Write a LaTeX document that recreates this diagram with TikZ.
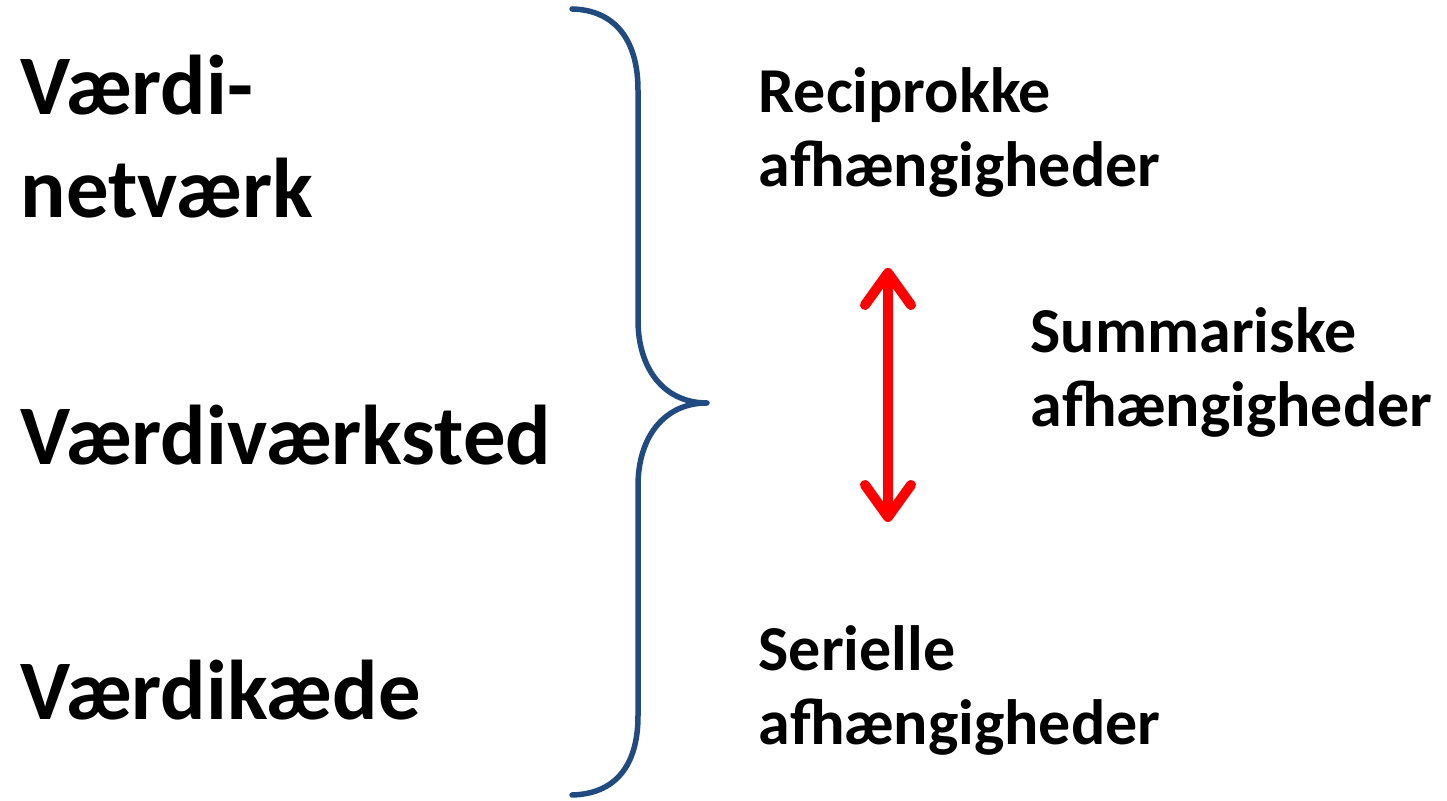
\documentclass[tikz,border=0pt]{standalone}
\usepackage{fontspec}
\setmainfont{Carlito}
\usetikzlibrary{arrows.meta}
\definecolor{bracecol}{RGB}{33,74,128}
\definecolor{arrred}{RGB}{255,0,0}
\tikzset{
  bigtxt/.style={anchor=base west, align=left, inner sep=0pt,
    font=\fontsize{24.1pt}{29.3pt}\selectfont\bfseries},
  smalltxt/.style={anchor=base west, align=left, inner sep=0pt,
    font=\fontsize{18.2pt}{21.2pt}\selectfont\bfseries},
  bracestyle/.style={draw=bracecol, line width=0.055cm, line cap=round, line join=round},
  dblarrow/.style={draw=arrred, line width=0.1cm,
    {Straight Barb[length=0.32cm, width=0.46cm, round]}-{Straight Barb[length=0.32cm, width=0.46cm, round]}}
}
\begin{document}
\begin{tikzpicture}[x=0.01cm, y=-0.01cm]
\useasboundingbox (0,0) rectangle (1447,801);
\node[bigtxt] (netv) at (20,218) {Værdi-\\netværk};
\node[bigtxt] (vaerk) at (20,465) {Værdiværksted};
\node[bigtxt] (kaede) at (20,720) {Værdikæde};
\node[smalltxt] (recip) at (758,187) {Reciprokke\\afhængigheder};
\node[smalltxt] (summ) at (1030,427) {Summariske\\afhængigheder};
\node[smalltxt] (seri) at (758,745) {Serielle\\afhængigheder};
\coordinate (btop) at (572,9);
\coordinate (btip) at (707,403);
\coordinate (bbot) at (572,795);
\draw[bracestyle] (btop) .. controls (615,10) and (638,40) .. (638,90)
  -- (638,320) .. controls (638,370) and (665,403) .. (btip)
  .. controls (665,403) and (638,436) .. (638,486)
  -- (638,716) .. controls (638,766) and (615,794) .. (bbot);
\coordinate (atop) at (888,268);
\coordinate (abot) at (888,522);
\draw[dblarrow] (atop) -- (abot);
\end{tikzpicture}
\end{document}
